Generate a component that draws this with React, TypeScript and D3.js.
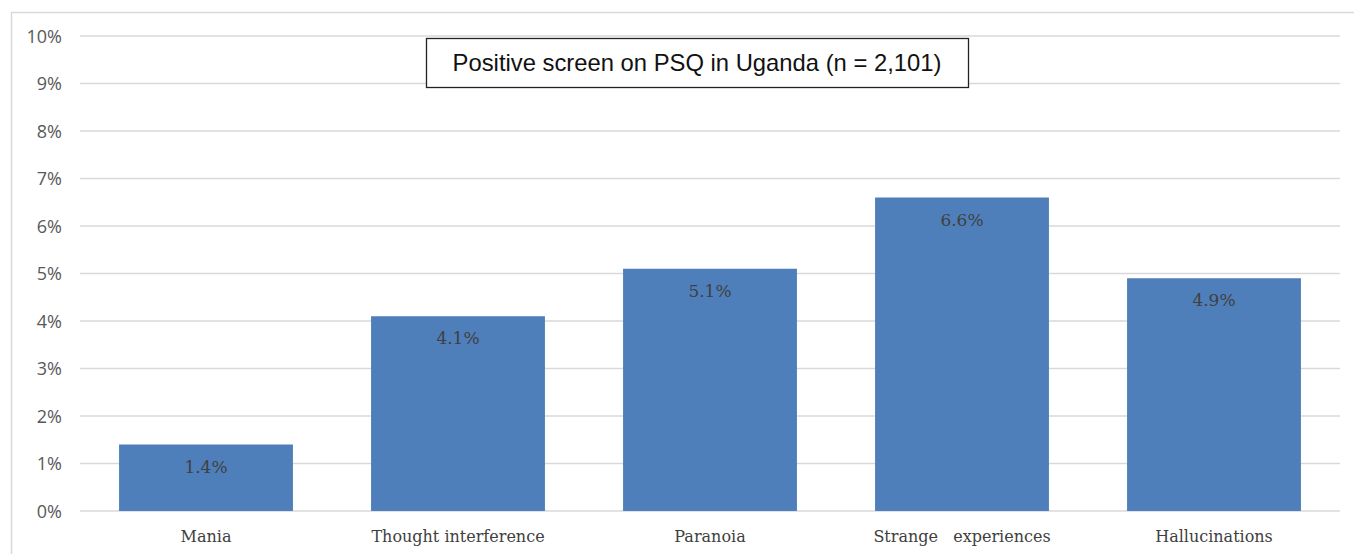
import { useEffect, useRef } from 'react';
import * as d3 from 'd3';

const categories = ['Mania', 'Thought interference', 'Paranoia', 'Strange   experiences', 'Hallucinations'];
const values = [1.4, 4.1, 5.1, 6.6, 4.9];
const yTicks = [0, 1, 2, 3, 4, 5, 6, 7, 8, 9, 10];
const title = 'Positive screen on PSQ in Uganda (n = 2,101)';

const W = 1354;
const H = 554;

export default function App() {
  const svgRef = useRef<SVGSVGElement>(null);

  useEffect(() => {
    if (!svgRef.current) return;
    const svg = d3.select(svgRef.current);
    svg.selectAll('*').remove();

    const serif = "'DejaVu Serif', 'Liberation Serif', serif";
    const x = d3.scaleBand().domain(categories).range([80, 1340]).paddingInner(0.31).paddingOuter(0.155);
    const y = d3.scaleLinear().domain([0, 10]).range([511, 36]);

    // outer frame
    svg.append('path').attr('d', `M11.5,${H} V12.5 H${W}`).attr('fill', 'none').attr('stroke', '#d9d9d9').attr('stroke-width', 1.5);

    // gridlines
    svg
      .selectAll('line.grid')
      .data(yTicks)
      .join('line')
      .attr('class', 'grid')
      .attr('x1', 80)
      .attr('x2', 1340)
      .attr('y1', (d) => y(d))
      .attr('y2', (d) => y(d))
      .attr('stroke', '#d9d9d9')
      .attr('stroke-width', 1.5);

    svg
      .selectAll('text.ytick')
      .data(yTicks)
      .join('text')
      .attr('class', 'ytick')
      .attr('x', 62)
      .attr('y', (d) => y(d) + 6.5)
      .attr('text-anchor', 'end')
      .attr('font-family', "'Open Sans', 'DejaVu Sans', sans-serif")
      .attr('font-size', 18)
      .attr('fill', '#595959')
      .text((d) => `${d}%`);

    svg
      .selectAll('rect.bar')
      .data(values)
      .join('rect')
      .attr('class', 'bar')
      .attr('x', (_, i) => x(categories[i])!)
      .attr('width', x.bandwidth())
      .attr('y', (d) => y(d))
      .attr('height', (d) => y(0) - y(d))
      .attr('fill', '#4e7fba');

    svg
      .selectAll('text.val')
      .data(values)
      .join('text')
      .attr('class', 'val')
      .attr('x', (_, i) => x(categories[i])! + x.bandwidth() / 2)
      .attr('y', (d) => y(d) + 28)
      .attr('text-anchor', 'middle')
      .attr('font-family', serif)
      .attr('font-size', 17)
      .attr('fill', '#404040')
      .text((d) => `${d.toFixed(1)}%`);

    svg
      .selectAll('text.cat')
      .data(categories)
      .join('text')
      .attr('class', 'cat')
      .attr('x', (d) => x(d)! + x.bandwidth() / 2)
      .attr('y', 542)
      .attr('text-anchor', 'middle')
      .attr('font-family', serif)
      .attr('font-size', 16)
      .attr('fill', '#404040')
      .style('white-space', 'pre')
      .text((d) => d);

    // title box
    svg.append('rect').attr('x', 426.5).attr('y', 38.5).attr('width', 542).attr('height', 49).attr('fill', '#fff').attr('stroke', '#222').attr('stroke-width', 1.3);
    svg
      .append('text')
      .attr('x', 697)
      .attr('y', 71)
      .attr('text-anchor', 'middle')
      .attr('font-family', "'Liberation Sans', Arial, sans-serif")
      .attr('font-size', 23.8)
      .attr('fill', '#111')
      .text(title);
  }, []);

  return (
    <div style={{ position: 'absolute', left: 0, top: 0, width: W, height: H, background: '#fff' }}>
      <svg ref={svgRef} width={W} height={H} />
    </div>
  );
}
